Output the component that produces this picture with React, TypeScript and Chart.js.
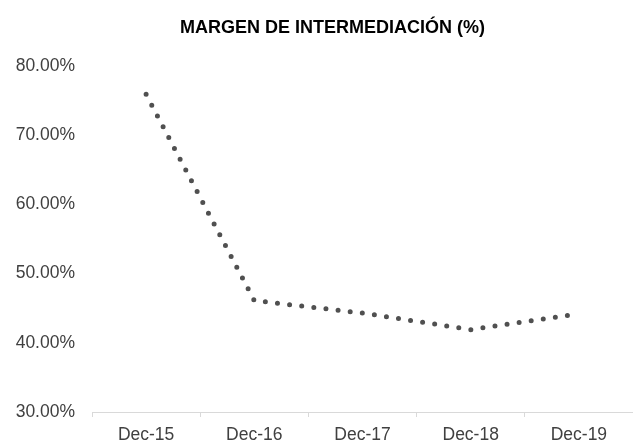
import React, { useEffect, useRef } from "react";
import { Chart, registerables } from "chart.js";

Chart.register(...registerables);

const categories = ["Dec-15", "Dec-16", "Dec-17", "Dec-18", "Dec-19"];
const margenValues = [75.9, 46.1, 44.3, 41.9, 44.2];
const chartTitle = "MARGEN DE INTERMEDIACIÓN (%)";
const yMin = 30;
const yMax = 80;
const yStep = 10;

const FONT = "'Liberation Sans', Arial, sans-serif";

export default function App() {
  const ref = useRef<HTMLCanvasElement | null>(null);

  useEffect(() => {
    if (!ref.current) return;
    const titlePlugin = {
      id: "customTitle",
      afterDraw(chart: any) {
        const ctx = chart.ctx;
        ctx.save();
        ctx.font = `bold 18px ${FONT}`;
        ctx.fillStyle = "#000000";
        ctx.textAlign = "center";
        ctx.textBaseline = "middle";
        ctx.fillText(chartTitle, 332.5, 28.5);
        ctx.restore();
      },
    };
    const chart = new Chart(ref.current, {
      type: "line",
      data: {
        labels: categories,
        datasets: [
          {
            data: margenValues,
            borderColor: "#505050",
            borderWidth: 5,
            borderDash: [0, 12.2],
            borderCapStyle: "round",
            borderJoinStyle: "round",
            pointRadius: 0,
            tension: 0,
            fill: false,
          },
        ],
      },
      options: {
        animation: false,
        responsive: false,
        layout: { padding: { top: 66, left: 0, right: 0, bottom: 0 } },
        plugins: {
          legend: { display: false },
          title: { display: false },
          tooltip: { enabled: false },
        },
        scales: {
          x: {
            offset: true,
            grid: {
              offset: true,
              drawOnChartArea: false,
              drawTicks: true,
              tickLength: 5,
              color: "#d9d9d9",
            },
            border: { display: true, color: "#d9d9d9", width: 1 },
            ticks: {
              color: "#404040",
              font: { family: FONT, size: 17.5 },
              padding: 8,
              maxRotation: 0,
            },
            afterFit: (scale: any) => {
              scale.height = 29;
            },
          },
          y: {
            min: yMin,
            max: yMax,
            grid: { display: false, drawTicks: false },
            border: { display: false },
            ticks: {
              stepSize: yStep,
              color: "#404040",
              font: { family: FONT, size: 17.5 },
              padding: 17,
              callback: (v: any) => Number(v).toFixed(2) + "%",
            },
            afterFit: (scale: any) => {
              scale.width = 92;
            },
          },
        },
      },
      plugins: [titlePlugin],
    });
    return () => chart.destroy();
  }, []);

  return (
    <div style={{ position: "absolute", left: 0, top: 0, width: 633, height: 441, background: "#ffffff" }}>
      <canvas ref={ref} width={633} height={441} style={{ display: "block" }} />
    </div>
  );
}
